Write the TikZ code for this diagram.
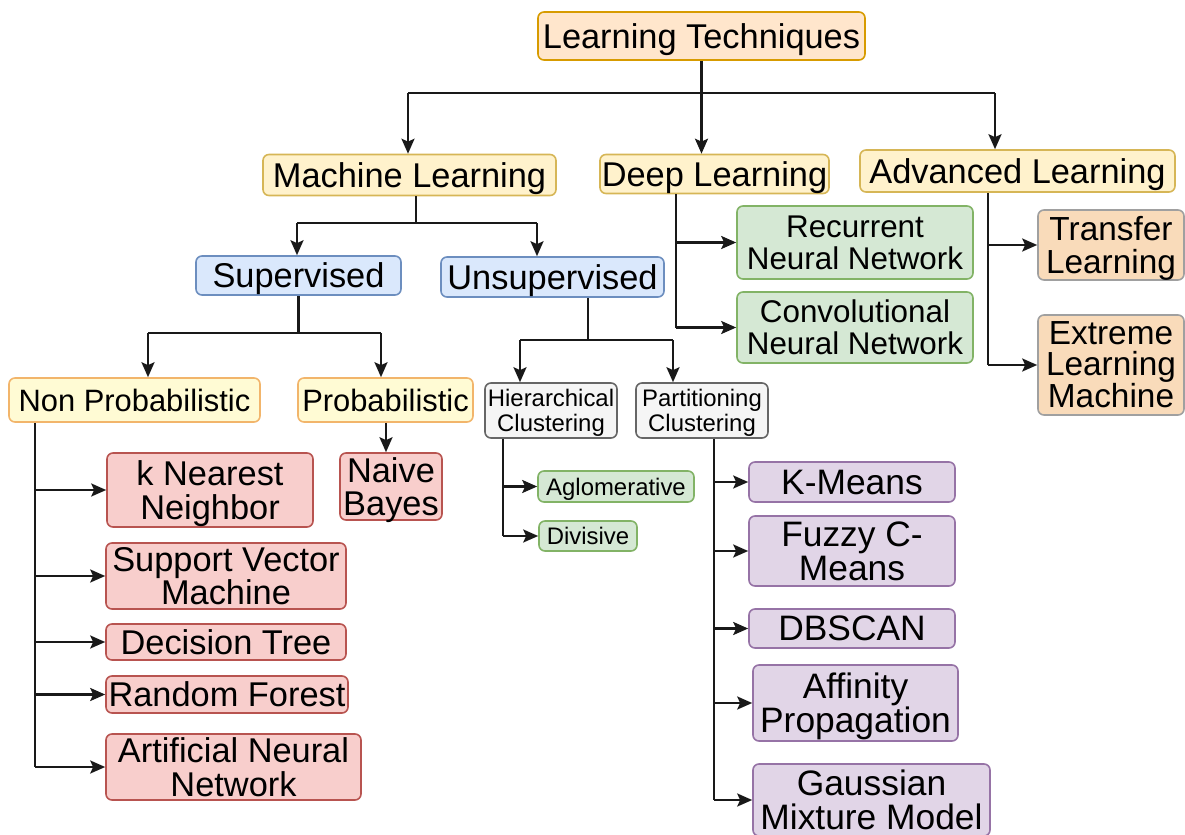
\documentclass[tikz,border=0pt]{standalone}
\usepackage{fontspec}
\setmainfont{Liberation Sans}
\usetikzlibrary{arrows.meta}
\definecolor{orF}{HTML}{FFE6CC}\definecolor{orD}{HTML}{D79B00}
\definecolor{yeF}{HTML}{FFF2CC}\definecolor{yeD}{HTML}{D6B656}
\definecolor{lyF}{HTML}{FFFBD4}\definecolor{lyD}{HTML}{F2B56B}
\definecolor{blF}{HTML}{DAE8FC}\definecolor{blD}{HTML}{6C8EBF}
\definecolor{grF}{HTML}{F5F5F5}\definecolor{grD}{HTML}{666666}
\definecolor{gnF}{HTML}{D5E8D4}\definecolor{gnD}{HTML}{82B366}
\definecolor{rdF}{HTML}{F8CECC}\definecolor{rdD}{HTML}{B85450}
\definecolor{puF}{HTML}{E1D5E7}\definecolor{puD}{HTML}{9673A6}
\definecolor{peF}{HTML}{F9DBBA}\definecolor{peD}{HTML}{A0A0A0}
\tikzset{
  box/.style={draw, rounded corners=6bp, line width=1.6bp, align=center, inner sep=0pt, text depth=0pt},
  sz/.style 2 args={minimum width=#1bp, minimum height=#2bp},
  fs/.style 2 args={font=\fontsize{#1}{#2}\selectfont},
  orb/.style={box, fill=orF, draw=orD},
  yeb/.style={box, fill=yeF, draw=yeD},
  lyb/.style={box, fill=lyF, draw=lyD},
  blb/.style={box, fill=blF, draw=blD},
  grb/.style={box, fill=grF, draw=grD},
  gnb/.style={box, fill=gnF, draw=gnD},
  rdb/.style={box, fill=rdF, draw=rdD},
  pub/.style={box, fill=puF, draw=puD},
  peb/.style={box, fill=peF, draw=peD},
  ln/.style={line width=2.5bp, draw=black!90},
  arr/.style={ln, -{Stealth[length=15bp,width=13bp,inset=3bp]}},
}
\begin{document}
\begin{tikzpicture}[x=1bp,y=-1bp]
\useasboundingbox (0,0) rectangle (1185,835);
% top levels
\node[orb, sz={327}{48}, fs={34.5}{36}] (LT) at (701.5,36) {Learning Techniques};
\node[yeb, sz={293}{41}, fs={34.5}{36}] (ML) at (409.5,175) {Machine Learning};
\node[yeb, sz={229}{39}, fs={34.5}{36}] (DL) at (714.5,174) {Deep Learning};
\node[yeb, sz={315}{42}, fs={34.5}{36}] (AL) at (1017.5,171) {Advanced Learning};
\node[blb, sz={205}{39}, fs={34.5}{36}] (SU) at (298.5,275.5) {Supervised};
\node[blb, sz={223}{40}, fs={34.5}{36}] (UN) at (552.5,277) {Unsupervised};
\node[lyb, sz={251}{44}, fs={31}{33}] (NP) at (134.5,400) {Non Probabilistic};
\node[lyb, sz={175}{44}, fs={31}{33}] (PR) at (385.5,400) {Probabilistic};
\node[grb, sz={132}{55}, fs={24}{25}] (HC) at (551,410.5) {Hierarchical\\Clustering};
\node[grb, sz={132}{55}, fs={24}{25}] (PC) at (702,410.5) {Partitioning\\Clustering};
\node[gnb, sz={156}{31}, fs={24}{25}] (AG) at (616,486.5) {Aglomerative};
\node[gnb, sz={98}{30}, fs={24}{25}] (DV) at (588,536) {Divisive};
% supervised leaves
\node[rdb, sz={206}{74}, fs={34.5}{34}] (KNN) at (210,490) {k Nearest\\Neighbor};
\node[rdb, sz={102}{67}, fs={34.5}{34}] (NB) at (391,486.5) {Naive\\Bayes};
\node[rdb, sz={240}{66}, fs={34.5}{34}] (SVM) at (226,576) {Support Vector\\Machine};
\node[rdb, sz={240}{36}, fs={34.5}{34}] (DT) at (226,642) {Decision Tree};
\node[rdb, sz={242}{37}, fs={34.5}{34}] (RF) at (227,694.5) {Random Forest};
\node[rdb, sz={255}{66}, fs={34.5}{34}] (ANN) at (233.5,767) {Artificial Neural\\Network};
% deep / advanced
\node[gnb, sz={236}{73}, fs={31.5}{32}] (RNN) at (855,242.5) {Recurrent\\Neural Network};
\node[gnb, sz={236}{71}, fs={31.5}{32}] (CNN) at (855,327.5) {Convolutional\\Neural Network};
\node[peb, sz={146}{70}, fs={33.5}{33}] (TL) at (1111,245) {Transfer\\Learning};
\node[peb, sz={146}{100}, fs={33.5}{31}] (EL) at (1111,365) {Extreme\\Learning\\Machine};
% partitioning leaves
\node[pub, sz={206}{40}, fs={35.5}{34}] (KM) at (852,482) {K-Means};
\node[pub, sz={206}{70}, fs={35.5}{34}] (FC) at (852,551) {Fuzzy C-\\Means};
\node[pub, sz={206}{39}, fs={35.5}{34}] (DB) at (852,628.5) {DBSCAN};
\node[pub, sz={205}{76}, fs={35.5}{34}] (AP) at (855.5,703) {Affinity\\Propagation};
\node[pub, sz={237}{72}, fs={35.5}{34}] (GM) at (871.5,800) {Gaussian\\Mixture Model};
% connectors: top
\coordinate (j0) at (701.5,93);
\coordinate (jML) at (408,93);
\coordinate (jAL) at (995,93);
\draw[ln] (LT.south) -- (j0);
\draw[ln] (jML) -- (jAL);
\draw[arr] (jML) -- (jML |- ML.north);
\draw[arr] (j0) -- (j0 |- DL.north);
\draw[arr] (jAL) -- (jAL |- AL.north);
% machine learning
\coordinate (m0) at (416,223);
\coordinate (mS) at (297,223);
\coordinate (mU) at (537,223);
\draw[ln] (m0 |- ML.south) -- (m0);
\draw[ln] (mS) -- (mU);
\draw[arr] (mS) -- (mS |- SU.north);
\draw[arr] (mU) -- (mU |- UN.north);
% supervised
\coordinate (s0) at (298.5,333);
\coordinate (sN) at (148,333);
\coordinate (sP) at (381,333);
\draw[ln] (SU.south) -- (s0);
\draw[ln] (sN) -- (sP);
\draw[arr] (sN) -- (sN |- NP.north);
\draw[arr] (sP) -- (sP |- PR.north);
% unsupervised
\coordinate (u0) at (588,340);
\coordinate (uH) at (520,340);
\coordinate (uP) at (673,340);
\draw[ln] (u0 |- UN.south) -- (u0);
\draw[ln] (uH) -- (uP);
\draw[arr] (uH) -- (uH |- HC.north);
\draw[arr] (uP) -- (uP |- PC.north);
% probabilistic
\coordinate (p0) at (386,0);
\draw[arr] (p0 |- PR.south) -- (p0 |- NB.north);
% non probabilistic
\coordinate (n0) at (35,0);
\draw[ln] (n0 |- NP.south) -- (n0 |- ANN.west);
\foreach \t in {KNN,SVM,DT,RF,ANN} \draw[arr] (n0 |- \t.west) -- (\t.west);
% hierarchical
\coordinate (h0) at (503,0);
\draw[ln] (h0 |- HC.south) -- (h0 |- DV.west);
\foreach \t in {AG,DV} \draw[arr] (h0 |- \t.west) -- (\t.west);
% partitioning
\coordinate (q0) at (714,0);
\draw[ln] (q0 |- PC.south) -- (q0 |- GM.west);
\foreach \t in {KM,FC,DB,AP,GM} \draw[arr] (q0 |- \t.west) -- (\t.west);
% deep learning
\coordinate (d0) at (676,0);
\draw[ln] (d0 |- DL.south) -- (d0 |- CNN.west);
\foreach \t in {RNN,CNN} \draw[arr] (d0 |- \t.west) -- (\t.west);
% advanced
\coordinate (a0) at (988,0);
\draw[ln] (a0 |- AL.south) -- (a0 |- EL.west);
\foreach \t in {TL,EL} \draw[arr] (a0 |- \t.west) -- (\t.west);
\end{tikzpicture}
\end{document}
